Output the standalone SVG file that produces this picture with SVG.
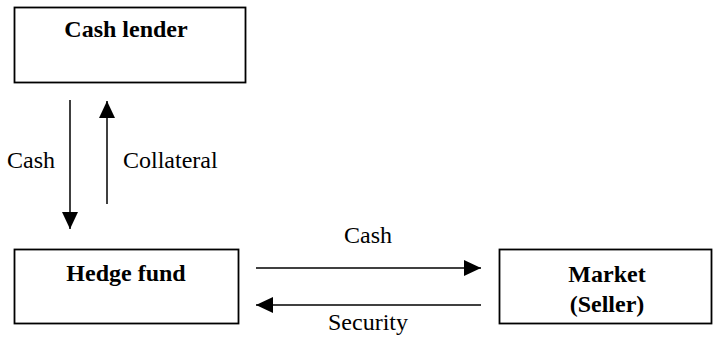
<svg xmlns="http://www.w3.org/2000/svg" width="713" height="339" viewBox="0 0 713 339">
<style>
.box{fill:#fff;stroke:#000;stroke-width:1.8}
text{font-family:'Liberation Serif','Times New Roman',Times,serif;font-size:24px;fill:#000}
.b{font-weight:bold;text-anchor:middle}
.ln{stroke:#000;stroke-width:1.5;fill:none;marker-end:url(#ah)}
</style>
<defs>
<marker id="ah" markerUnits="userSpaceOnUse" markerWidth="18" markerHeight="16" refX="17" refY="8" orient="auto">
<path d="M0,0 L17,8 L0,16 Z" fill="#000"/>
</marker>
</defs>
<rect width="713" height="339" fill="#fff"/>
<g id="cash-lender">
<rect class="box" x="14.5" y="7.5" width="231" height="75"/>
<text class="b" x="126" y="37" font-family="Liberation Serif, serif">Cash lender</text>
</g>
<g id="hedge-fund">
<rect class="box" x="14.5" y="249.5" width="224" height="74"/>
<text class="b" x="126" y="281" font-family="Liberation Serif, serif">Hedge fund</text>
</g>
<g id="market">
<rect class="box" x="499.5" y="249.5" width="212" height="74"/>
<text class="b" x="607" y="282" font-family="Liberation Serif, serif">Market</text>
<text class="b" x="607" y="312" font-family="Liberation Serif, serif">(Seller)</text>
</g>
<g id="connectors">
<line class="ln" x1="70" y1="100" x2="70" y2="229"/>
<line class="ln" x1="107" y1="204" x2="107" y2="101"/>
<line class="ln" x1="256" y1="268" x2="481" y2="268"/>
<line class="ln" x1="481" y1="305" x2="256" y2="305"/>
<text x="7" y="168" font-family="Liberation Serif, serif">Cash</text>
<text x="123" y="168" font-family="Liberation Serif, serif">Collateral</text>
<text x="368" y="243" text-anchor="middle" font-family="Liberation Serif, serif">Cash</text>
<text x="368" y="330" text-anchor="middle" font-family="Liberation Serif, serif">Security</text>
</g>
</svg>
